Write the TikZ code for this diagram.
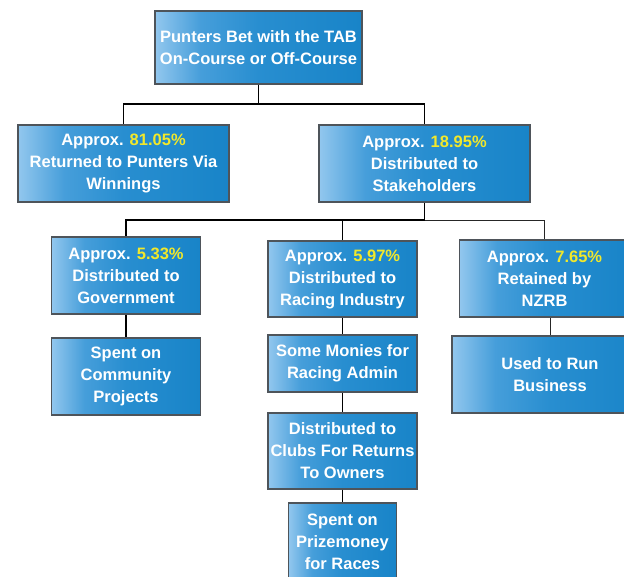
\documentclass[tikz,border=0pt]{standalone}
\usepackage{fontspec}
\setmainfont{Liberation Sans}
\usetikzlibrary{positioning,calc}
\usepackage{xcolor}
\definecolor{PaleBlue}{RGB}{146,199,238}
\definecolor{MidBlue}{RGB}{70,158,218}
\definecolor{TabBlue}{RGB}{40,142,208}
\definecolor{DeepBlue}{RGB}{24,132,200}
\definecolor{EdgeGrey}{RGB}{78,84,90}
\definecolor{PctYellow}{RGB}{242,232,42}
\pgfdeclarehorizontalshading{boxshade}{100bp}{color(0bp)=(PaleBlue); color(25bp)=(PaleBlue);
  color(36bp)=(MidBlue); color(50bp)=(TabBlue); color(75bp)=(DeepBlue); color(100bp)=(DeepBlue)}
\newcommand{\pct}[1]{\textcolor{PctYellow}{#1}}
\tikzset{
  flowbox/.style={draw=EdgeGrey, line width=1.4pt, shading=boxshade, text=white,
    font=\fontsize{16.5}{22}\selectfont\bfseries, align=center, inner sep=0pt},
  link/.style={line width=1.6pt, black},
  thinlink/.style={line width=0.9pt, black!85}
}
\begin{document}
\begin{tikzpicture}[x=1pt,y=-1pt]
  \useasboundingbox (0,0) rectangle (624,577);
  % top level
  \node[flowbox, minimum width=207pt, minimum height=73pt] (bet) at (258.5,47.5)
    {Punters Bet with the TAB\\On-Course or Off-Course};
  % second level
  \node[flowbox, minimum width=211pt, minimum height=77pt] (winnings) at (123.5,163.5)
    {Approx. \pct{81.05\%}\\Returned to Punters Via\\Winnings};
  \node[flowbox, minimum width=211pt, minimum height=77pt] (stake) at (424.5,163.5)
    {Approx. \pct{18.95\%}\\Distributed to\\Stakeholders};
  % third level
  \node[flowbox, minimum width=149pt, minimum height=77pt] (govt) at (126,275.5)
    {Approx. \pct{5.33\%}\\Distributed to\\Government};
  \node[flowbox, minimum width=149pt, minimum height=76pt] (industry) at (342.5,279)
    {Approx. \pct{5.97\%}\\Distributed to\\Racing Industry};
  \node[flowbox, minimum width=170pt, minimum height=77pt] (nzrb) at (544.5,278.5)
    {Approx. \pct{7.65\%}\\Retained by\\NZRB};
  % lower levels
  \node[flowbox, minimum width=149pt, minimum height=77pt] (community) at (126,376.5)
    {Spent on\\Community\\Projects};
  \node[flowbox, minimum width=149pt, minimum height=57pt] (admin) at (342.5,363.5)
    {Some Monies for\\Racing Admin};
  \node[flowbox, minimum width=196pt, minimum height=77pt] (business) at (550,374.5)
    {Used to Run\\Business};
  \node[flowbox, minimum width=149pt, minimum height=76pt] (clubs) at (342.5,451)
    {Distributed to\\Clubs For Returns\\To Owners};
  \node[flowbox, minimum width=108pt, minimum height=77pt] (prize) at (342.5,541.5)
    {Spent on\\Prizemoney\\for Races};
  % connectors
  \coordinate (busA) at (0,104);
  \coordinate (busB) at (0,220);
  \draw[link] (bet.south) -- (bet.south |- busA) -| (winnings.north);
  \draw[link] (bet.south |- busA) -| (stake.north);
  \draw[link] (stake.south) -- (stake.south |- busB) -| (govt.north);
  \draw[link] (stake.south |- busB) -| (industry.north);
  \draw[thinlink] (stake.south |- busB) -| (nzrb.north);
  \draw[link] (govt.south) -- (community.north);
  \draw[link] (industry.south) -- (admin.north);
  \draw[link] (admin.south) -- (clubs.north);
  \draw[link] (clubs.south) -- (prize.north);
  \draw[thinlink] (nzrb.south -| business.north) -- (business.north);
\end{tikzpicture}
\end{document}
